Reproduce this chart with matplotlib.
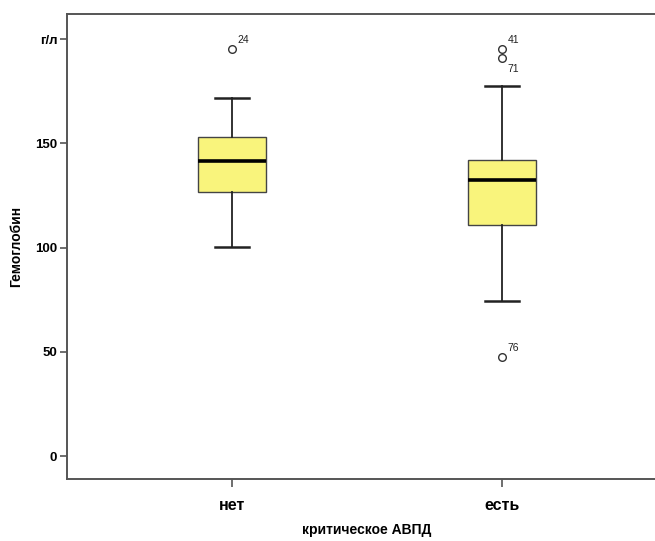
import matplotlib

matplotlib.use("Agg")
import matplotlib.pyplot as plt

plt.rcParams["font.family"] = ["Liberation Sans", "DejaVu Sans"]

# Hemoglobin (g/l) summary per group: whiskers, quartiles, median
groups = ["нет", "есть"]
whislo = [100.3, 74.4]
q1 = [126.7, 110.8]
med = [141.5, 132.4]
q3 = [153.0, 142.0]
whishi = [171.8, 177.5]
outliers = [[195.3], [195.3, 191.0, 47.5]]
outlier_ids = [["24"], ["41", "71", "76"]]
# label placement for each outlier id (points): above-right or below-right
outlier_offsets = [[(4, 4)], [(4, 4), (4, -10), (4, 4)]]

y_ticks = [0, 50, 100, 150, 200]
y_tick_labels = ["0", "50", "100", "150", "г/л"]

stats = [
    dict(label=g, whislo=lo, q1=a, med=m, q3=b, whishi=hi, fliers=f)
    for g, lo, a, m, b, hi, f in zip(groups, whislo, q1, med, q3, whishi, outliers)
]

fig = plt.figure(figsize=(6.55, 5.41), dpi=100)
ax = fig.add_axes([67 / 655, 62 / 541, 600 / 655, 465 / 541])

spine_col = "#555555"
ax.bxp(
    stats,
    positions=[1, 2],
    widths=68 / 270,
    patch_artist=True,
    boxprops=dict(facecolor="#f9f47c", edgecolor="#444444", linewidth=1.0),
    medianprops=dict(color="black", linewidth=2.6),
    whiskerprops=dict(color="#222222", linewidth=1.3),
    capprops=dict(color="#222222", linewidth=1.8),
    capwidths=34 / 270,
    flierprops=dict(marker="o", markersize=5.5, markerfacecolor="none",
                    markeredgecolor="#333333", markeredgewidth=1.0),
)

for pos, vals, ids, offs in zip([1, 2], outliers, outlier_ids, outlier_offsets):
    for v, name, off in zip(vals, ids, offs):
        ax.annotate(name, (pos, v), xytext=off, textcoords="offset points",
                    fontsize=7.5, color="#222222")

ax.set_xlim(1 - 165 / 270, 2 + 165 / 270)
ax.set_ylim(-11, 212)
ax.set_yticks(y_ticks)
ax.set_yticklabels(y_tick_labels)
ax.set_xticks([1, 2])
ax.set_xticklabels(groups)

for s in ["left", "bottom", "top"]:
    ax.spines[s].set_color(spine_col)
    ax.spines[s].set_linewidth(1.4)
ax.spines["right"].set_visible(False)

ax.tick_params(axis="y", length=5, width=1.2, color=spine_col, labelsize=9.5, pad=2)
ax.tick_params(axis="x", length=6, width=1.2, color=spine_col, labelsize=11.5, pad=8)
for lab in ax.get_xticklabels() + ax.get_yticklabels():
    lab.set_fontweight("bold")

ax.set_ylabel("Гемоглобин", fontsize=10, fontweight="bold", labelpad=9)
ax.set_xlabel("критическое АВПД", fontsize=10, fontweight="bold", labelpad=7)

fig.savefig("out.png", dpi=100)
